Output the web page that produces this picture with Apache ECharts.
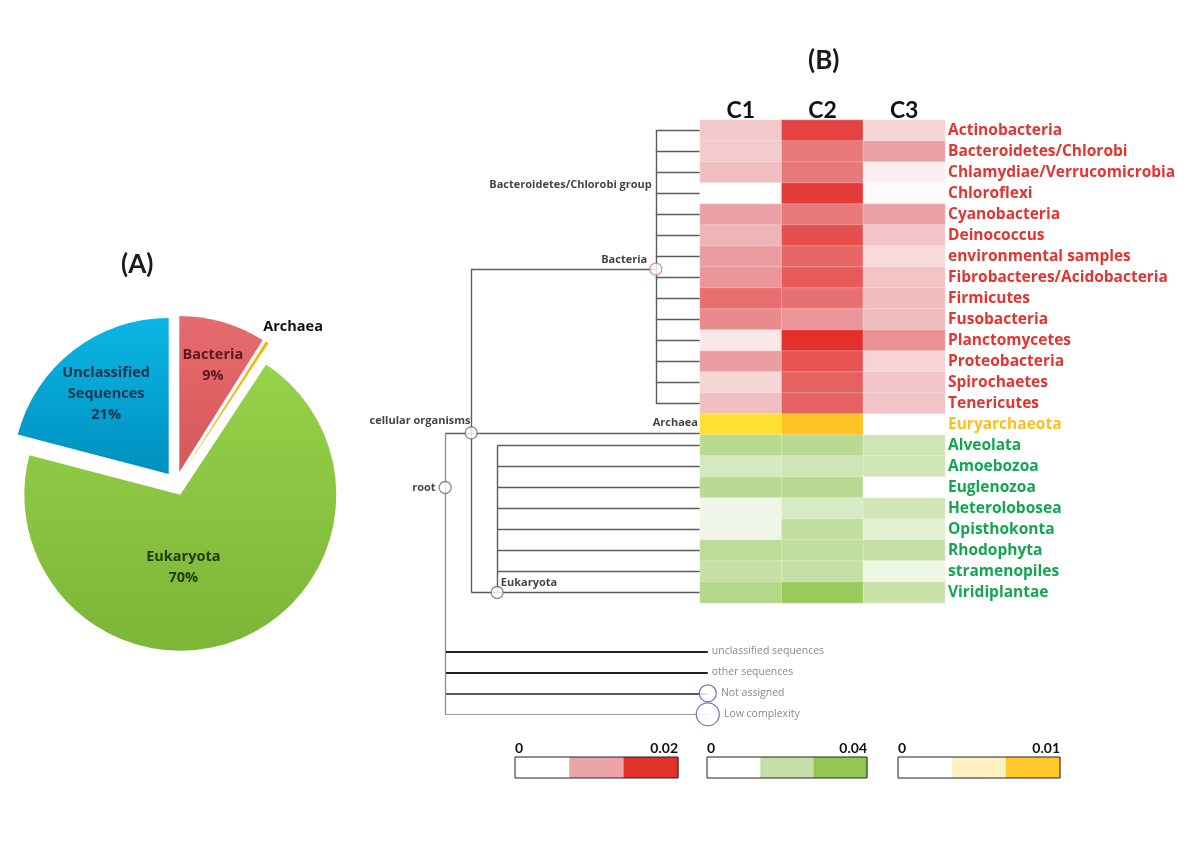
<!DOCTYPE html>
<html><head><meta charset="utf-8">
<script src="https://cdn.jsdelivr.net/npm/echarts@6/dist/echarts.min.js"></script>
<style>html,body{margin:0;padding:0;background:#fff}#c{width:1191px;height:853px}</style>
</head><body><div id="c"></div>
<script>
// ---------- DATA ----------
const pieNames = ['Bacteria', 'Archaea', 'Eukaryota', 'Unclassified\nSequences'];
const pieValues = [9, 0.3, 70, 21];

const columns = ['C1', 'C2', 'C3'];
const bacteriaTaxa = ['Actinobacteria', 'Bacteroidetes/Chlorobi', 'Chlamydiae/Verrucomicrobia', 'Chloroflexi',
  'Cyanobacteria', 'Deinococcus', 'environmental samples', 'Fibrobacteres/Acidobacteria', 'Firmicutes',
  'Fusobacteria', 'Planctomycetes', 'Proteobacteria', 'Spirochaetes', 'Tenericutes'];
const archaeaTaxa = ['Euryarchaeota'];
const eukaryotaTaxa = ['Alveolata', 'Amoebozoa', 'Euglenozoa', 'Heterolobosea', 'Opisthokonta',
  'Rhodophyta', 'stramenopiles', 'Viridiplantae'];

// relative abundance per taxon, columns C1, C2, C3
const bacteriaValues = [
  [0.0059, 0.0184, 0.0046],
  [0.0058, 0.0138, 0.0103],
  [0.0070, 0.0137, 0.0019],
  [0.0000, 0.0190, 0.0005],
  [0.0103, 0.0136, 0.0103],
  [0.0082, 0.0173, 0.0063],
  [0.0106, 0.0153, 0.0040],
  [0.0113, 0.0164, 0.0065],
  [0.0147, 0.0145, 0.0074],
  [0.0122, 0.0112, 0.0074],
  [0.0025, 0.0200, 0.0116],
  [0.0106, 0.0168, 0.0047],
  [0.0046, 0.0157, 0.0063],
  [0.0071, 0.0157, 0.0065]
];
const archaeaValues = [
  [0.0068, 0.0100, 0.0000]
];
const eukaryotaValues = [
  [0.0247, 0.0247, 0.0162],
  [0.0145, 0.0166, 0.0166],
  [0.0247, 0.0247, 0.0000],
  [0.0055, 0.0134, 0.0162],
  [0.0055, 0.0212, 0.0100],
  [0.0235, 0.0220, 0.0204],
  [0.0200, 0.0200, 0.0062],
  [0.0267, 0.0376, 0.0186]
];
const scaleMax = { bacteria: 0.02, eukaryota: 0.04, archaea: 0.01 };
const scaleLabels = [['0', '0.02'], ['0', '0.04'], ['0', '0.01']];

// tree: internal nodes (depth on a 0-110 scale, row in heatmap row units)
const treeInternal = [
  { name: 'root', parent: null, depth: 2, row: 17 },
  { name: 'cellular organisms', parent: 'root', depth: 12, row: 14.4 },
  { name: 'Bacteria', parent: 'cellular organisms', depth: 83, row: 6.6 },
  { name: 'Eukaryota', parent: 'cellular organisms', depth: 22, row: 22 }
];
const archaeaLeafRow = 14.4;
const otherLeaves = ['unclassified sequences', 'other sequences', 'Not assigned', 'Low complexity'];
const otherLeafRows = [24.8, 25.8, 26.8, 27.8];
const otherLeafCircle = [0, 0, 17, 23];

// ---------- STYLE ----------
const FF = '"Open Sans", Lato, sans-serif';
const FH = 'Lato, "Open Sans", sans-serif';
const redCols = ['#ffffff', '#eba4a8', '#e3302d'];
const greenCols = ['#ffffff', '#c5e0a6', '#92c850'];
const yellowCols = ['#ffffff', '#fff0c2', '#fee230', '#fec424'];

const allTaxa = bacteriaTaxa.concat(archaeaTaxa, eukaryotaTaxa);
function cells(values, offset) {
  const out = [];
  values.forEach((row, i) => row.forEach((v, j) => out.push([j, offset + i, v])));
  return out;
}

// tree nodes incl. leaves
const leafDepth = 100, otherDepth = 103;
const treeNodes = treeInternal.slice();
bacteriaTaxa.forEach((t, i) => treeNodes.push({ name: t, parent: 'Bacteria', depth: leafDepth, row: i, leaf: true }));
treeNodes.push({ name: 'Archaea', parent: 'cellular organisms', depth: leafDepth, row: archaeaLeafRow, leaf: true });
eukaryotaTaxa.forEach((t, i) => treeNodes.push({ name: t, parent: 'Eukaryota', depth: leafDepth, row: bacteriaTaxa.length + 1 + i, leaf: true }));
otherLeaves.forEach((t, i) => treeNodes.push({ name: t, parent: 'root', depth: otherDepth, row: otherLeafRows[i], leaf: true, other: i }));

const byName = {};
treeNodes.forEach(n => byName[n.name] = n);
const segs = [];
const otherLineStyles = [
  { color: '#222', width: 1.8 }, { color: '#222', width: 1.8 }, { color: '#222', width: 1.5 }, { color: '#999', width: 1 }
];
treeNodes.forEach(n => {
  if (!n.parent) return;
  const p = byName[n.parent];
  const seg = { coords: [[p.depth, n.row], [n.depth, n.row]] };
  if (n.other !== undefined) seg.lineStyle = otherLineStyles[n.other];
  segs.push(seg);
});
treeInternal.forEach(p => {
  const rows = treeNodes.filter(n => n.parent === p.name).map(n => n.row).concat([p.row]);
  const seg = { coords: [[p.depth, Math.min.apply(null, rows)], [p.depth, Math.max.apply(null, rows)]] };
  if (p.name === 'root') seg.lineStyle = { color: '#8a8a8a', width: 1.3 };
  segs.push(seg);
});

const nodeLabelPos = {
  'root': { position: 'left', distance: 3, offset: [0, 0] },
  'cellular organisms': { position: 'left', distance: 0, offset: [6, -12] },
  'Bacteria': { position: 'left', distance: 2, offset: [0, -9] },
  'Eukaryota': { position: 'right', distance: 0, offset: [-3, -10] }
};
const circleData = treeInternal.map(n => ({
  value: [n.depth, n.row], name: n.name,
  itemStyle: { borderColor: n.name === 'Bacteria' ? '#d9707e' : '#6f6f6f' },
  label: Object.assign({ show: true, formatter: n.name }, nodeLabelPos[n.name])
}));
// extra tree labels
circleData.push({ value: [83, 2.6], name: 'Bacteroidetes/Chlorobi group', symbolSize: 0,
  label: { show: true, position: 'left', distance: 4, formatter: 'Bacteroidetes/Chlorobi group' } });
circleData.push({ value: [leafDepth, archaeaLeafRow], name: 'Archaea', symbolSize: 0,
  label: { show: true, position: 'left', distance: 2, offset: [0, -10], formatter: 'Archaea' } });
otherLeaves.forEach((t, i) => {
  circleData.push({ value: [otherDepth, otherLeafRows[i]], name: t, symbolSize: otherLeafCircle[i],
    itemStyle: { borderColor: '#4a58a8', borderWidth: 1.2 },
    label: { show: true, position: 'right', distance: 4, formatter: t, color: '#6b6b6b', fontWeight: 'normal', fontSize: 10.5 } });
});

// pie
const pieColors = [
  { type: 'linear', x: 0, y: 0, x2: 0, y2: 1, colorStops: [{ offset: 0, color: '#e66b6e' }, { offset: 1, color: '#d8575a' }] },
  '#f4b400',
  { type: 'linear', x: 0, y: 0, x2: 0, y2: 1, colorStops: [{ offset: 0, color: '#96d24b' }, { offset: 1, color: '#7db536' }] },
  { type: 'linear', x: 0, y: 0, x2: 0, y2: 1, colorStops: [{ offset: 0, color: '#0bb6e4' }, { offset: 1, color: '#0090bf' }] }
];
const pieLabelColors = ['#5a1a1c', '#111', '#1f3a0e', '#0d3550'];
const pieLabelShift = [[11, -29], [-11, -12], [-26, -3], [-13, -16]];

// legend scale bars
const legendDefs = [
  { x: 515, w: 163, cols: redCols, labels: scaleLabels[0] },
  { x: 707, w: 160, cols: greenCols, labels: scaleLabels[1] },
  { x: 898, w: 162, cols: ['#ffffff', '#fff0c2', '#fec72c'], labels: scaleLabels[2] }
];
const graphics = [
  { type: 'text', left: 121, top: 252, style: { text: '(A)', font: 'bold 26px ' + FH, fill: '#1a1a1a' } },
  { type: 'text', left: 808, top: 48, style: { text: '(B)', font: 'bold 26px ' + FH, fill: '#1a1a1a' } }
];
legendDefs.forEach(d => {
  const y = 757, h = 21, sw = d.w / 3;
  d.cols.forEach((c, i) => graphics.push({ type: 'rect', shape: { x: d.x + i * sw, y: y, width: sw + 0.5, height: h }, style: { fill: c } }));
  graphics.push({ type: 'rect', shape: { x: d.x, y: y, width: d.w, height: h }, style: { fill: 'none', stroke: '#222', lineWidth: 1 } });
  graphics.push({ type: 'text', x: d.x, y: 755, style: { text: d.labels[0], font: 'bold 14px ' + FH, fill: '#111', textAlign: 'left', textVerticalAlign: 'bottom' } });
  graphics.push({ type: 'text', x: d.x + d.w, y: 755, style: { text: d.labels[1], font: 'bold 14px ' + FH, fill: '#111', textAlign: 'right', textVerticalAlign: 'bottom' } });
});

const cellStyle = { borderColor: 'rgba(255,255,255,0.35)', borderWidth: 0.8 };
const chart = echarts.init(document.getElementById('c'));
chart.setOption({
  animation: false,
  backgroundColor: '#ffffff',
  textStyle: { fontFamily: FF },
  grid: [
    { left: 700, top: 120, width: 245, height: 483 },
    { left: 440, top: 120, width: 286, height: 609 }
  ],
  xAxis: [
    { type: 'category', data: columns, gridIndex: 0, position: 'top',
      axisLine: { show: false }, axisTick: { show: false }, splitLine: { show: false },
      axisLabel: { fontSize: 23, fontWeight: 'bold', color: '#111', margin: -2, fontFamily: FH } },
    { type: 'value', gridIndex: 1, min: 0, max: 110, show: false }
  ],
  yAxis: [
    { type: 'category', data: allTaxa, gridIndex: 0, inverse: true, position: 'right',
      axisLine: { show: false }, axisTick: { show: false }, splitLine: { show: false },
      axisLabel: { margin: 3, interval: 0,
        formatter: (v, i) => (i < bacteriaTaxa.length ? '{b|' : i < bacteriaTaxa.length + 1 ? '{a|' : '{e|') + v + '}',
        rich: {
          b: { color: '#e5332f', fontSize: 15.5, fontWeight: 'bold', fontFamily: FF },
          a: { color: '#fdbf1c', fontSize: 15.5, fontWeight: 'bold', fontFamily: FF },
          e: { color: '#12a650', fontSize: 15.5, fontWeight: 'bold', fontFamily: FF }
        } } },
    { type: 'value', gridIndex: 1, min: -0.5, max: 28.5, inverse: true, show: false }
  ],
  visualMap: [
    { type: 'continuous', show: false, seriesIndex: 0, min: 0, max: scaleMax.bacteria, inRange: { color: redCols } },
    { type: 'continuous', show: false, seriesIndex: 1, min: 0, max: scaleMax.archaea, inRange: { color: yellowCols } },
    { type: 'continuous', show: false, seriesIndex: 2, min: 0, max: scaleMax.eukaryota, inRange: { color: greenCols } }
  ],
  graphic: graphics,
  series: [
    { type: 'heatmap', xAxisIndex: 0, yAxisIndex: 0, data: cells(bacteriaValues, 0), itemStyle: cellStyle, emphasis: { disabled: true }, z: 5 },
    { type: 'heatmap', xAxisIndex: 0, yAxisIndex: 0, data: cells(archaeaValues, bacteriaTaxa.length), itemStyle: cellStyle, emphasis: { disabled: true }, z: 5 },
    { type: 'heatmap', xAxisIndex: 0, yAxisIndex: 0, data: cells(eukaryotaValues, bacteriaTaxa.length + 1), itemStyle: cellStyle, emphasis: { disabled: true }, z: 5 },
    { type: 'lines', coordinateSystem: 'cartesian2d', xAxisIndex: 1, yAxisIndex: 1, polyline: false, silent: true,
      lineStyle: { color: '#5c5c5c', width: 1.4, opacity: 1 }, data: segs, z: 2 },
    { type: 'scatter', xAxisIndex: 1, yAxisIndex: 1, symbol: 'circle', symbolSize: 12, silent: true, z: 3,
      itemStyle: { color: '#ffffff', borderColor: '#6f6f6f', borderWidth: 1.3 },
      label: { color: '#111', fontSize: 11, fontWeight: 'bold', fontFamily: FF },
      data: circleData },
    { type: 'pie', center: [176, 483.5], radius: 156, startAngle: 90, clockwise: true,
      selectedMode: 'multiple', selectedOffset: 12, avoidLabelOverlap: false, silent: true,
      label: { show: true, position: 'inside', fontFamily: FF, fontWeight: 'bold', fontSize: 14.5, lineHeight: 21,
        formatter: p => p.name + '\n' + Math.round(p.percent) + '%' },
      labelLine: { show: false },
      labelLayout: p => ({ dx: pieLabelShift[p.dataIndex][0], dy: pieLabelShift[p.dataIndex][1] }),
      data: pieNames.map((n, i) => ({
        name: n, value: pieValues[i], selected: true,
        itemStyle: { color: pieColors[i] },
        label: n === 'Archaea'
          ? { position: 'outside', formatter: '{b}', color: pieLabelColors[i] }
          : { color: pieLabelColors[i] },
        labelLine: { show: false, length: 4, length2: 0 }
      }))
    }
  ]
});
</script></body></html>
